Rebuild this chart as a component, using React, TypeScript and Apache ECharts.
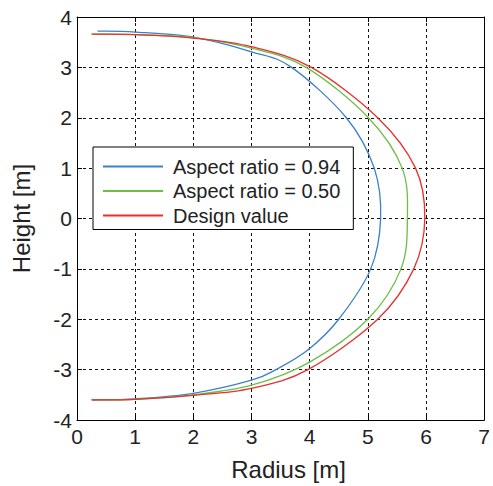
import React, { useEffect, useRef } from "react";
import * as echarts from "echarts";

const seriesNames = ["Aspect ratio = 0.94", "Aspect ratio = 0.50", "Design value"];
const seriesColors = ["#3a80cc", "#6cbf45", "#e8302e"];

const blue: [number, number][] = [
  [0.36, 3.72], [1, 3.7], [2, 3.6], [3, 3.31], [3.69, 3.0], [4.63, 2.0], [5.11, 1.0], [5.22, 0],
  [5.05, -1.0], [4.5, -2.0], [3.98, -2.6], [3.42, -3.0], [3, -3.21], [2, -3.47], [1, -3.58], [0.26, -3.6],
];
const green: [number, number][] = [
  [0.26, 3.66], [1, 3.65], [2, 3.59], [3, 3.38], [3.94, 3.0], [5.01, 2.0], [5.59, 1.0], [5.68, 0],
  [5.57, -1.0], [5.0, -2.0], [4.0, -2.85], [3, -3.31], [2, -3.5], [1, -3.59], [0.26, -3.6],
];
const red: [number, number][] = [
  [0.26, 3.66], [1, 3.65], [2, 3.58], [3, 3.41], [4.03, 3.0], [5.17, 2.0], [5.82, 1.0], [5.98, 0],
  [5.79, -1.0], [5.17, -2.0], [3.97, -3.0], [3, -3.37], [2, -3.51], [1, -3.59], [0.26, -3.6],
];

const xName = "Radius [m]";
const yName = "Height [m]";

const FONT = "'Liberation Sans', Arial, sans-serif";

export default function App() {
  const ref = useRef<HTMLDivElement>(null);
  useEffect(() => {
    if (!ref.current) return;
    const chart = echarts.init(ref.current, null, { renderer: "svg" });
    const splitLine = { show: true, lineStyle: { color: "#111", type: [3, 3] as any, width: 1 } };
    const axisLine = { show: true, onZero: false, lineStyle: { color: "#000", width: 1 } };
    const tick = { show: true, inside: true, length: 5, lineStyle: { color: "#000" } };
    const datas = [blue, green, red];

    // Catmull-Rom spline through the data points, mapped with the axes' scales.
    const makeRender = (arr: [number, number][], color: string) => (params: any, api: any) => {
      const i = params.dataIndex;
      const n = arr.length;
      if (i >= n - 1) return null;
      const P = (k: number) => api.coord(arr[Math.max(0, Math.min(n - 1, k))]);
      const p0 = P(i - 1), p1 = P(i), p2 = P(i + 1), p3 = P(i + 2);
      const t = 1 / 6;
      return {
        type: "bezierCurve",
        shape: {
          x1: p1[0], y1: p1[1], x2: p2[0], y2: p2[1],
          cpx1: p1[0] + (p2[0] - p0[0]) * t, cpy1: p1[1] + (p2[1] - p0[1]) * t,
          cpx2: p2[0] - (p3[0] - p1[0]) * t, cpy2: p2[1] - (p3[1] - p1[1]) * t,
        },
        style: { stroke: color, lineWidth: 1.3, fill: null, lineCap: "round" },
        silent: true,
      };
    };

    chart.setOption({
      animation: false,
      textStyle: { fontFamily: FONT },
      grid: { left: 77, right: 5, top: 17, bottom: 64 },
      legend: {
        orient: "vertical",
        left: 93,
        top: 147,
        backgroundColor: "#fff",
        borderColor: "#000",
        borderWidth: 1,
        padding: [9, 13, 3.5, 10],
        itemWidth: 60,
        itemHeight: 2,
        itemGap: 3.5,
        icon: "rect",
        textStyle: { fontSize: 20, color: "#222", fontFamily: FONT, lineHeight: 21, padding: [0, 0, 0, 5] },
        data: seriesNames,
      },
      xAxis: [
        {
          type: "value", min: 0, max: 7, interval: 1, position: "bottom",
          name: xName, nameLocation: "middle", nameGap: 37,
          nameTextStyle: { fontSize: 24, color: "#222", fontFamily: FONT, padding: [0, 0, 0, 16] },
          axisLine, axisTick: tick, splitLine,
          axisLabel: { fontSize: 21, color: "#222", margin: 6, fontFamily: FONT },
        },
        {
          type: "value", min: 0, max: 7, interval: 1, position: "top",
          axisLine, axisTick: tick, splitLine: { show: false }, axisLabel: { show: false },
        },
      ],
      yAxis: [
        {
          type: "value", min: -4, max: 4, interval: 1, position: "left",
          name: yName, nameLocation: "middle", nameGap: 44,
          nameTextStyle: { fontSize: 24, color: "#222", fontFamily: FONT },
          axisLine, axisTick: tick, splitLine,
          axisLabel: { fontSize: 21, color: "#222", margin: 5, fontFamily: FONT },
        },
        {
          type: "value", min: -4, max: 4, interval: 1, position: "right",
          axisLine, axisTick: tick, splitLine: { show: false }, axisLabel: { show: false },
        },
      ],
      series: datas.map((d, i) => ({
        name: seriesNames[i],
        type: "custom",
        data: d,
        encode: { x: 0, y: 1 },
        renderItem: makeRender(d, seriesColors[i]),
        itemStyle: { color: seriesColors[i] },
        clip: true,
        z: 3,
      })),
    });
    return () => chart.dispose();
  }, []);
  return <div ref={ref} style={{ width: 493, height: 486, position: "absolute", left: 0, top: 0, background: "#fff" }} />;
}
